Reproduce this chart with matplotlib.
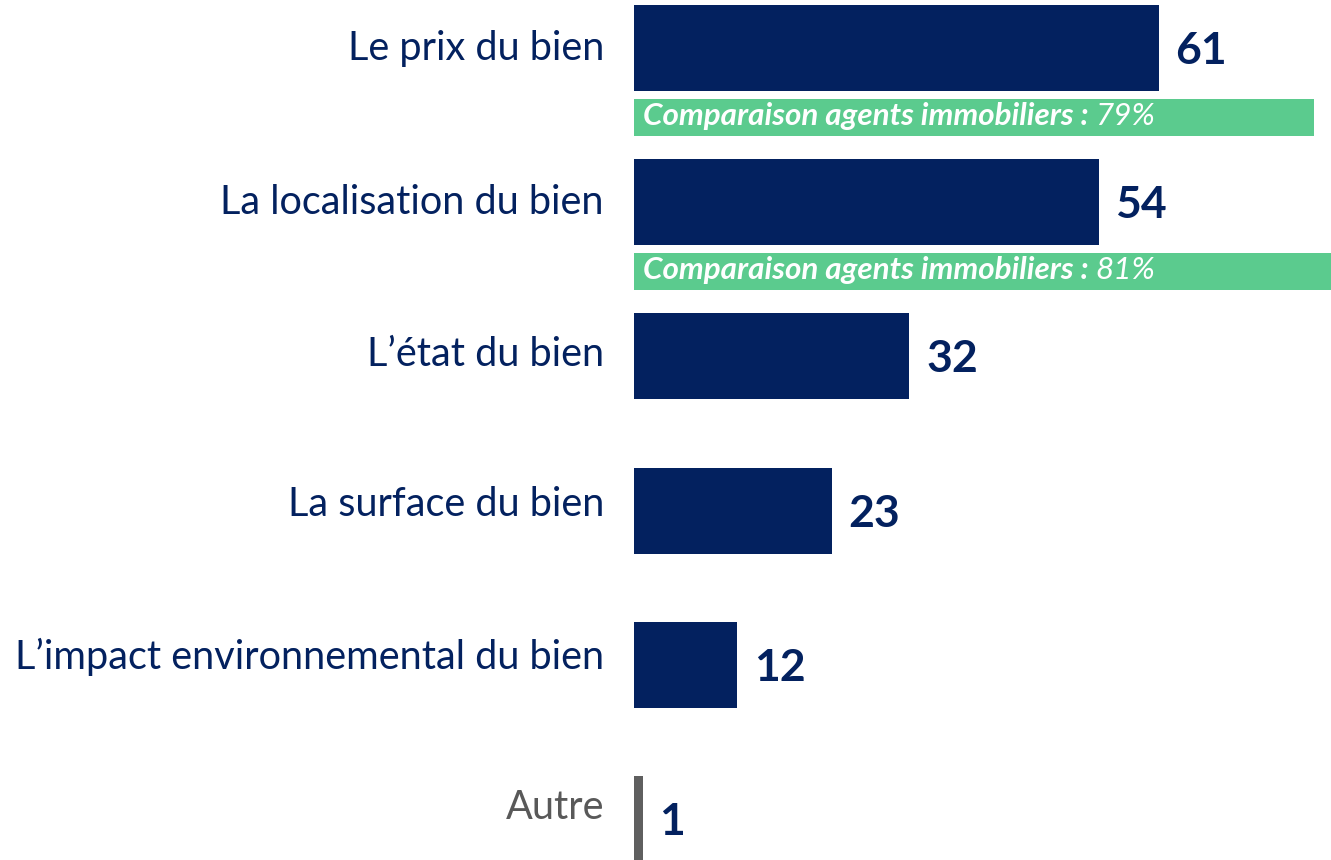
import matplotlib
matplotlib.use("Agg")
import matplotlib.pyplot as plt

categories = ["Le prix du bien", "La localisation du bien", "L\u2019état du bien",
              "La surface du bien", "L\u2019impact environnemental du bien", "Autre"]
values = [61, 54, 32, 23, 12, 1]
comparison_idx = [0, 1]
comparison_values = [79, 81]
comparison_prefix = "Comparaison agents immobiliers : "

NAVY = "#03215F"
GREEN = "#5BCB8E"
GRAY = "#5F5F5F"
FONT = "Lato"

fig = plt.figure(figsize=(13.31, 8.60), dpi=100)
ax = fig.add_axes([634/1331, 0, 697/1331, 1])
ax.set_xlim(0, 81)
ax.set_ylim(5.266, -0.311)

step_h = 0.558
bar_colors = [NAVY]*5 + [GRAY]
ax.barh(range(len(values)), values, height=step_h, color=bar_colors, left=0)

for i, v in enumerate(values):
    ax.annotate(str(v), xy=(v, i + 0.02), xytext=(12, 0), textcoords="offset points",
                va="center", ha="left", fontsize=32, fontweight="bold",
                color=NAVY, family=FONT)

for i, cv in zip(comparison_idx, comparison_values):
    y = i + 0.45
    ax.barh(y, cv, height=0.24, color=GREEN)
    t1 = ax.annotate(comparison_prefix, xy=(0, y), xytext=(6.5, 1),
                     textcoords="offset points", va="center", ha="left",
                     fontsize=22.6, fontweight="bold", fontstyle="italic",
                     color="white", family=FONT)
    ax.annotate(f"{cv}%", xy=(1, 0), xycoords=t1, va="bottom", ha="left",
                fontsize=22.6, fontstyle="italic", color="white", family=FONT)

# category labels (pixel lifts are layout only)
lift_px = [-1, 0, 2, 6, 8, 11]
label_colors = [NAVY]*5 + ["#595959"]
for i, (cat, c) in enumerate(zip(categories, label_colors)):
    ax.annotate(cat, xy=(0, i), xytext=(-21.6, lift_px[i]*0.72),
                textcoords="offset points", va="center", ha="right",
                fontsize=28.5, color=c, family=FONT, annotation_clip=False)

ax.set_yticks([])
ax.set_xticks([])
for s in ax.spines.values():
    s.set_visible(False)

fig.savefig("out.png", dpi=100)
